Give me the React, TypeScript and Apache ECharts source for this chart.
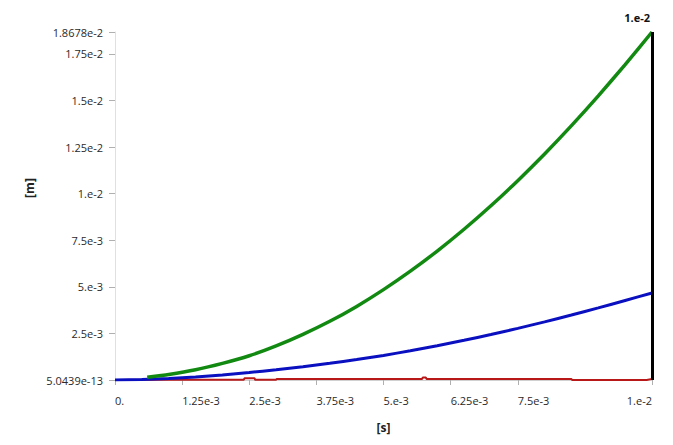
import React, { useEffect, useRef } from "react";
import * as echarts from "echarts";

const greenData: [number, number][] = [
  [0.0006, 0.00015],
  [0.001, 0.0003],
  [0.0015, 0.00055],
  [0.002, 0.00089],
  [0.0025, 0.0013],
  [0.003, 0.00183],
  [0.0035, 0.00245],
  [0.004, 0.00315],
  [0.0045, 0.00395],
  [0.005, 0.00485],
  [0.0055, 0.00584],
  [0.006, 0.00692],
  [0.0065, 0.00809],
  [0.007, 0.00935],
  [0.0075, 0.0107],
  [0.008, 0.01213],
  [0.0085, 0.01365],
  [0.009, 0.01525],
  [0.0095, 0.01693],
  [0.01, 0.018678],
];

const blueData: [number, number][] = [
  [0, 0],
  [0.0005, 0.00003],
  [0.001, 0.00008],
  [0.0015, 0.00016],
  [0.002, 0.00027],
  [0.0025, 0.0004],
  [0.003, 0.00055],
  [0.0035, 0.00071],
  [0.004, 0.0009],
  [0.0045, 0.0011],
  [0.005, 0.00132],
  [0.0055, 0.00157],
  [0.006, 0.00184],
  [0.0065, 0.00213],
  [0.007, 0.00244],
  [0.0075, 0.00277],
  [0.008, 0.00312],
  [0.0085, 0.00349],
  [0.009, 0.00387],
  [0.0095, 0.00427],
  [0.01, 0.00467],
];

const redData: [number, number][] = [
  [0, 0],
  [0.0008, 0.00001],
  [0.0024, 0.00002],
  [0.00241, 0.00009],
  [0.0026, 0.00009],
  [0.00261, 0.00001],
  [0.003, 0.00001],
  [0.00301, 0.00006],
  [0.00572, 0.00006],
  [0.00573, 0.00013],
  [0.00579, 0.00013],
  [0.0058, 0.00006],
  [0.0085, 0.00006],
  [0.00851, 0.000005],
  [0.0099, 0.000005],
  [0.01, 0.00006],
];

const xTickValues = [0, 0.00125, 0.0025, 0.00375, 0.005, 0.00625, 0.0075, 0.01];
const xTickLabels = ["0.", "1.25e-3", "2.5e-3", "3.75e-3", "5.e-3", "6.25e-3", "7.5e-3", "1.e-2"];

const yMin = 5.0439e-13;
const yMax = 0.018678;
const yTickValues = [yMin, 0.0025, 0.005, 0.0075, 0.01, 0.0125, 0.015, 0.0175, yMax];
const yTickLabels = ["5.0439e-13", "2.5e-3", "5.e-3", "7.5e-3", "1.e-2", "1.25e-2", "1.5e-2", "1.75e-2", "1.8678e-2"];

const xMarker = 0.01;
const xMarkerLabel = "1.e-2";

function labelFor(values: number[], labels: string[], v: number): string {
  let best = 0;
  let bd = Infinity;
  values.forEach((tv, i) => {
    const d = Math.abs(tv - v);
    if (d < bd) {
      bd = d;
      best = i;
    }
  });
  return labels[best];
}

export default function App() {
  const ref = useRef<HTMLDivElement>(null);
  useEffect(() => {
    document.body.style.margin = "0";
    if (!ref.current) return;
    const chart = echarts.init(ref.current, null, { renderer: "svg" });
    const font = "'Open Sans', 'Noto Sans', sans-serif";
    chart.setOption({
      animation: false,
      textStyle: { fontFamily: font },
      grid: { left: 115, right: 21, top: 32, bottom: 65 },
      xAxis: {
        type: "value",
        min: 0,
        max: 0.01,
        name: "[s]",
        nameLocation: "middle",
        nameGap: 41,
        nameTextStyle: { fontWeight: "bold", fontSize: 12, color: "#222", fontFamily: font },
        axisLine: { show: true, lineStyle: { color: "#d0d0d0" } },
        axisTick: { show: true, length: 5, lineStyle: { color: "#b0b0b0" }, customValues: xTickValues },
        splitLine: { show: false },
        axisLabel: {
          customValues: xTickValues,
          formatter: (v: number) => labelFor(xTickValues, xTickLabels, v),
          fontSize: 11,
          color: "#2a2a2a",
          margin: 15,
          align: "left",
          alignMaxLabel: "right",
          fontFamily: font,
        },
      },
      yAxis: {
        type: "value",
        min: yMin,
        max: yMax,
        name: "[m]",
        nameLocation: "middle",
        nameGap: 78,
        nameRotate: 90,
        nameTextStyle: { fontWeight: "bold", fontSize: 12, color: "#222", fontFamily: font, padding: [0, 0, 0, 36] },
        axisLine: { show: true, lineStyle: { color: "#e0e0e0" } },
        axisTick: { show: true, length: 6, lineStyle: { color: "#b0b0b0" }, customValues: yTickValues },
        splitLine: { show: false },
        axisLabel: {
          customValues: yTickValues,
          formatter: (v: number) => labelFor(yTickValues, yTickLabels, v),
          fontSize: 11,
          color: "#2a2a2a",
          margin: 12,
          fontFamily: font,
        },
      },
      series: [
        {
          type: "line",
          data: redData,
          showSymbol: false,
          lineStyle: { color: "#b81818", width: 2 },
          z: 2,
          markLine: {
            silent: true,
            symbol: "none",
            data: [{ yAxis: yMax }],
            lineStyle: { color: "#c4c4c4", width: 1, type: "solid" },
            label: { show: false },
          },
        },
        {
          type: "line",
          data: blueData,
          showSymbol: false,
          smooth: 0.2,
          lineStyle: { color: "#0a10c0", width: 3 },
          z: 3,
        },
        {
          type: "line",
          data: greenData,
          showSymbol: false,
          smooth: 0.2,
          lineStyle: { color: "#128a12", width: 3.5 },
          z: 4,
          markLine: {
            silent: true,
            symbol: "none",
            data: [{ xAxis: xMarker }],
            lineStyle: { color: "#000", width: 3, type: "solid" },
            label: {
              show: true,
              position: "end",
              formatter: xMarkerLabel,
              fontWeight: "bold",
              fontSize: 11,
              color: "#111",
              fontFamily: font,
              align: "right",
              distance: 9,
              offset: [-2, 0],
            },
          },
        },
      ],
    });
    return () => chart.dispose();
  }, []);
  return <div ref={ref} style={{ width: 673, height: 445 }} />;
}
